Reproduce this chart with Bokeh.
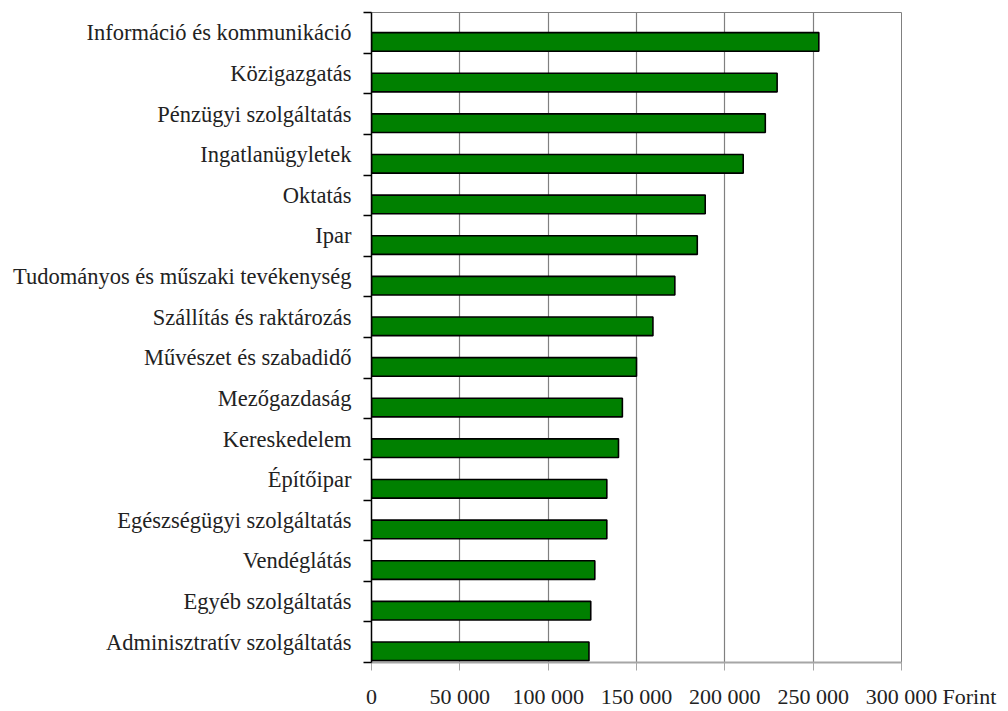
from bokeh.plotting import figure
from bokeh.models import FixedTicker, Label, ColumnDataSource, Range1d
from bokeh.embed import file_html
from bokeh.resources import INLINE

categories = [
    "Információ és kommunikáció",
    "Közigazgatás",
    "Pénzügyi szolgáltatás",
    "Ingatlanügyletek",
    "Oktatás",
    "Ipar",
    "Tudományos és műszaki tevékenység",
    "Szállítás és raktározás",
    "Művészet és szabadidő",
    "Mezőgazdaság",
    "Kereskedelem",
    "Építőipar",
    "Egészségügyi szolgáltatás",
    "Vendéglátás",
    "Egyéb szolgáltatás",
    "Adminisztratív szolgáltatás",
]
values = [253200, 229600, 222900, 210400, 188900, 184400, 171700, 159300,
          150000, 142000, 139800, 133200, 133200, 126400, 124100, 123100]
x_ticks = [0, 50000, 100000, 150000, 200000, 250000, 300000]
x_tick_labels = ["0", "50 000", "100 000", "150 000", "200 000", "250 000", "300 000"]
unit_label = "Forint"

FONT = "Liberation Serif"
n = len(categories)
# category k (0 = top) occupies band [n-1-k, n-k]
band_bottom = [n - 1 - k for k in range(n)]
bar_y = [b + 0.275 for b in band_bottom]
label_y = [b + 0.5 for b in band_bottom]

src = ColumnDataSource(dict(cat=categories, val=values, y=bar_y))

p = figure(width=1008, height=711, output_backend="svg", toolbar_location=None,
           x_range=Range1d(0, 300000), y_range=Range1d(0, n),
           min_border_left=371, min_border_right=107, min_border_top=12,
           min_border_bottom=49)
p.background_fill_color = "white"
p.border_fill_color = "white"
p.outline_line_color = "#808080"
p.outline_line_width = 1

p.hbar(y="y", right="val", left=0, height=0.46, source=src,
       fill_color="#008000", line_color="black", line_width=1.6)

# x axis
p.xaxis.ticker = FixedTicker(ticks=x_ticks, minor_ticks=[])
p.xaxis.major_label_overrides = {t: l for t, l in zip(x_ticks, x_tick_labels)}
p.xaxis.axis_line_color = "#a6a6a6"
p.xaxis.axis_line_width = 2
p.xaxis.major_tick_line_color = "#a6a6a6"
p.xaxis.major_tick_out = 8
p.xaxis.major_tick_in = 0
p.xaxis.minor_tick_line_color = None
p.xaxis.minor_tick_out = 0
p.xaxis.minor_tick_in = 0
p.xaxis.major_label_standoff = 13
p.xaxis.major_label_text_font = FONT
p.xaxis.major_label_text_font_size = "22px"
p.xaxis.major_label_text_line_height = 1.0
p.xaxis.major_label_text_color = "#222222"

# y axis
p.yaxis.ticker = FixedTicker(ticks=label_y, minor_ticks=list(range(0, n + 1)))
p.yaxis.major_label_overrides = {y: c for y, c in zip(label_y, categories)}
p.yaxis.axis_line_color = "black"
p.yaxis.axis_line_width = 1.5
p.yaxis.major_tick_out = 0
p.yaxis.major_tick_in = 0
p.yaxis.major_tick_line_color = None
p.yaxis.minor_tick_out = 8
p.yaxis.minor_tick_in = 0
p.yaxis.minor_tick_line_color = "black"
p.yaxis.minor_tick_line_width = 1.5
p.yaxis.major_label_standoff = 12
p.yaxis.major_label_text_font = FONT
p.yaxis.major_label_text_font_size = "22.5px"
p.yaxis.major_label_text_color = "#222222"

p.ygrid.grid_line_color = None
p.xgrid.ticker = FixedTicker(ticks=x_ticks[1:-1])
p.xgrid.grid_line_color = "#808080"
p.xgrid.grid_line_width = 1.2

# unit text after the last tick label (in the right side panel so it is not clipped)
p.add_layout(Label(x=x_ticks[-1], y=0, x_offset=41, y_offset=-21,
                   text=unit_label,
                   text_font=FONT, text_font_size="22px", text_color="#222222",
                   text_align="left", text_baseline="top"), "right")

open("out.html", "w").write(file_html(p, INLINE))
